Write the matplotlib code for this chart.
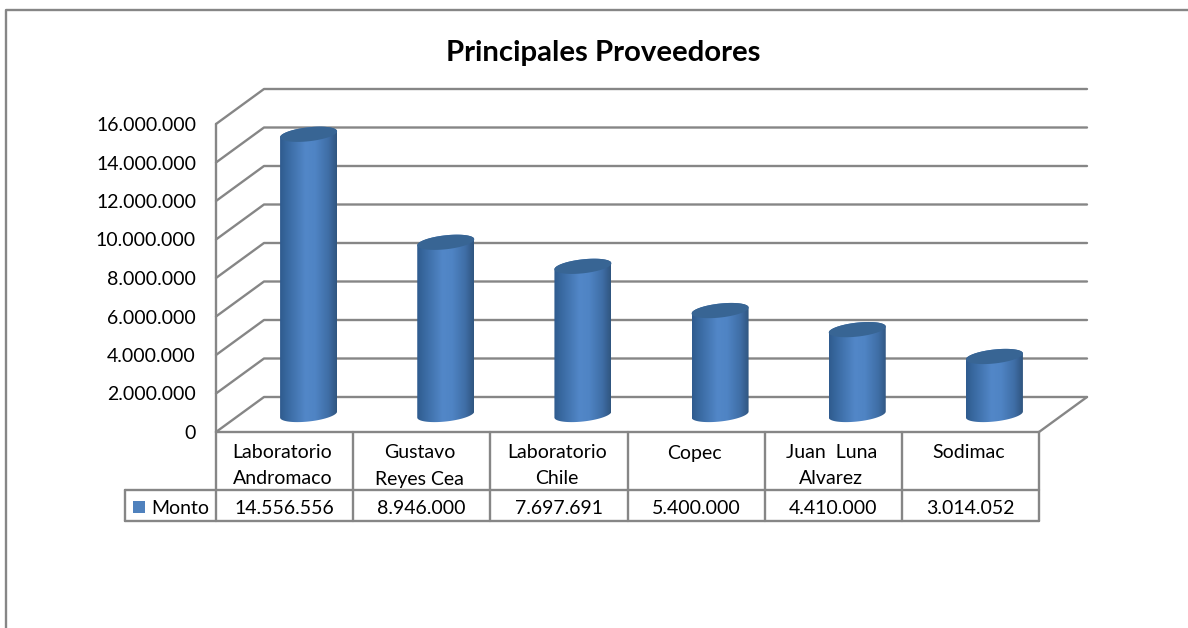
import numpy as np
import matplotlib
matplotlib.use("Agg")
import matplotlib.pyplot as plt
from matplotlib.colors import LinearSegmentedColormap
from matplotlib.patches import Rectangle, PathPatch
from matplotlib.path import Path

# --- data ---
categories = [["Laboratorio", "Andromaco"], ["Gustavo", "Reyes Cea"], ["Laboratorio", "Chile"],
              ["Copec"], ["Juan  Luna", "Alvarez"], ["Sodimac"]]
values = [14556556, 8946000, 7697691, 5400000, 4410000, 3014052]
value_labels = ["14.556.556", "8.946.000", "7.697.691", "5.400.000", "4.410.000", "3.014.052"]
series_name = "Monto"
title = "Principales Proveedores"
ticks = list(range(0, 16000001, 2000000))

W, H = 1188, 628
GRID = "#868686"
FONT = "Lato"
FS = 14.0
plt.rcParams["font.family"] = [FONT, "DejaVu Sans"]

fig = plt.figure(figsize=(W / 100, H / 100), dpi=100)
fig.patch.set_facecolor("white")

L, R, B, T = 216, 1039, 432, 124
ax = fig.add_axes([L / W, 1 - B / H, (R - L) / W, (B - T) / H])
ax.set_xlim(0, len(values))
ax.set_ylim(0, 16000000)
ax.axis("off")

px = len(values) / (R - L)          # category units per pixel
py = 16000000 / (B - T)             # value units per pixel


def X(p):
    return (p - L) * px


def Yp(p):
    return (B - p) * py


lk = dict(color=GRID, lw=1.7, clip_on=False, solid_capstyle="round", zorder=1)

# chart frame: left and top edges only, running off the picture
fig.add_artist(plt.Line2D([5.5 / W, 5.5 / W, 1],
                          [0, 1 - 10 / H, 1 - 10 / H],
                          color=GRID, lw=1.7))

# walls
DX, DY = 48 * px, 35 * py
n = len(values)
for t in ticks:
    ax.plot([0, DX, n + DX], [t, t + DY, t + DY], **lk)
ax.plot([0, 0], [0, 16000000], **lk)
ax.plot([n, n + DX], [0, DY], **lk)

# cylinders
cmap = LinearSegmentedColormap.from_list(
    "cyl", [(0, "#2f5b8e"), (0.12, "#38689f"), (0.45, "#5287c8"), (0.62, "#4f84c4"),
            (0.85, "#3f6ea6"), (1, "#30557f")])
grad = np.linspace(0, 1, 256).reshape(1, -1)
a, b, k = 28.5 * px, 7.0 * py, 3.0 * py
theta = np.linspace(0, np.pi, 60)
for i, v in enumerate(values):
    cx = i + 0.5 + DX / 2
    base = DY / 2
    top = base + v
    bx = cx - a * np.cos(theta)
    by = base - b * np.sin(theta) - k * np.cos(theta)
    tx = cx + a * np.cos(theta)
    ty = top + b * np.sin(theta) + k * np.cos(theta)
    pts = np.column_stack([np.r_[bx, tx], np.r_[by, ty]])
    clip = PathPatch(Path(np.vstack([pts, pts[0]]), closed=True), transform=ax.transData,
                     fc="none", ec="none")
    ax.add_patch(clip)
    im = ax.imshow(grad, extent=[cx - a, cx + a, base - 2 * b, top + 2 * b], aspect="auto",
                   cmap=cmap, zorder=3, interpolation="bilinear")
    im.set_clip_path(clip)
    t2 = np.linspace(0, 2 * np.pi, 100)
    ax.fill(cx + a * np.cos(t2), top + b * np.sin(t2) + k * np.cos(t2),
            color="#386594", zorder=4, clip_on=False, lw=0)
ax.set_xlim(0, n)
ax.set_ylim(0, 16000000)

# tick labels
for t in ticks:
    ax.text(X(196), t - 1.5 * py, f"{t:,}".replace(",", "."), ha="right", va="center", fontsize=FS,
            color="black", clip_on=False)

# data table
row1, row2 = Yp(490), Yp(521)
left = X(125)
for i in range(n + 1):
    ax.plot([i, i], [0, row2], **lk)
ax.plot([0, n], [0, 0], **lk)
ax.plot([left, n], [row1, row1], **lk)
ax.plot([left, n], [row2, row2], **lk)
ax.plot([left, left], [row1, row2], **lk)

for i, lines in enumerate(categories):
    for j, s in enumerate(lines):
        ax.text(i + 0.5 - 2 * px, Yp(453 + 26 * j), s, ha="center", va="center", fontsize=FS, clip_on=False)
    ax.text(i + 0.5, Yp(508), value_labels[i], ha="center", va="center", fontsize=FS, clip_on=False)

ax.add_patch(Rectangle((X(133), Yp(513)), 12 * px, 12 * py, fc="#4f81bd", ec="none", clip_on=False))
ax.text(X(151), Yp(508), series_name, ha="left", va="center", fontsize=FS, clip_on=False)

# title
ax.text(X(603), Yp(53), title, ha="center", va="center", fontsize=21.2, fontweight="bold", clip_on=False)

fig.savefig("out.png", dpi=100)
